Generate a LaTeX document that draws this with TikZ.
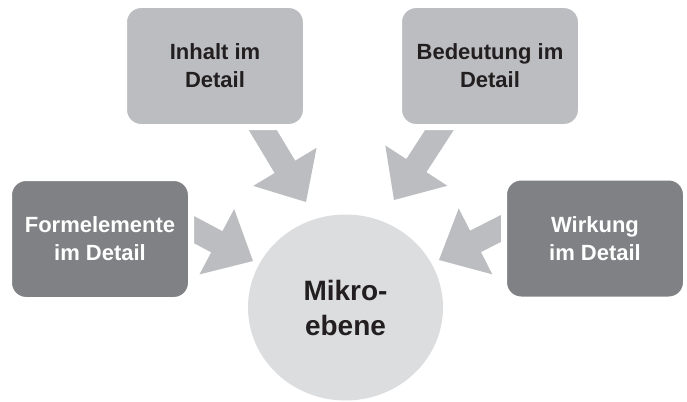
\documentclass[tikz,border=0pt]{standalone}
\usepackage{fontspec}
\setmainfont{Liberation Sans}
\usetikzlibrary{shapes.geometric}
\definecolor{lightgr}{HTML}{BCBDC0}
\definecolor{darkgr}{HTML}{808184}
\definecolor{circgr}{HTML}{DCDDDE}
\definecolor{txtc}{HTML}{231F20}
\newcommand\myblockarrow[2]{%
  \begin{scope}[shift={(#1)}, rotate=#2]
    \fill[arrowfill] (0,0) -- (-41,37) -- (-41,12) -- (-118,12) -- (-118,-12) -- (-41,-12) -- (-41,-37) -- cycle;
  \end{scope}}
\begin{document}
\begin{tikzpicture}[x=1pt,y=-1pt,
  arrowfill/.style={fill=lightgr},
  boxbase/.style={rectangle, rounded corners=17pt, draw=white, line width=6pt,
    minimum width=182pt, minimum height=122pt, align=center, inner sep=0pt,
    font=\bfseries\fontsize{22}{28}\selectfont},
  lightbox/.style={boxbase, fill=lightgr, text=txtc},
  darkbox/.style={boxbase, fill=darkgr, text=white},
  centre/.style={ellipse, fill=circgr, minimum width=195pt, minimum height=186pt,
    align=center, inner sep=0pt, text=txtc, font=\bfseries\fontsize{28}{35}\selectfont}
]
\useasboundingbox (0,0) rectangle (687,401);
% arrow tips
\coordinate (tipTL) at (306,202);
\coordinate (tipTR) at (394,200);
\coordinate (tipL) at (253,261);
\coordinate (tipR) at (439,260);
\myblockarrow{tipTL}{-59}
\myblockarrow{tipTR}{-123}
\myblockarrow{tipL}{-28}
\myblockarrow{tipR}{-153}
% boxes
\node[lightbox] (inhalt) at (215,66) {Inhalt im\\Detail};
\node[lightbox] (bedeutung) at (490,66) {Bedeutung im\\Detail};
\node[darkbox] (form) at (100,239) {Formelemente\\im Detail};
\node[darkbox] (wirkung) at (595,238.5) {Wirkung\\im Detail};
% centre
\node[centre] (mikro) at (345.5,307.5) {Mikro-\\ebene};
\end{tikzpicture}
\end{document}
